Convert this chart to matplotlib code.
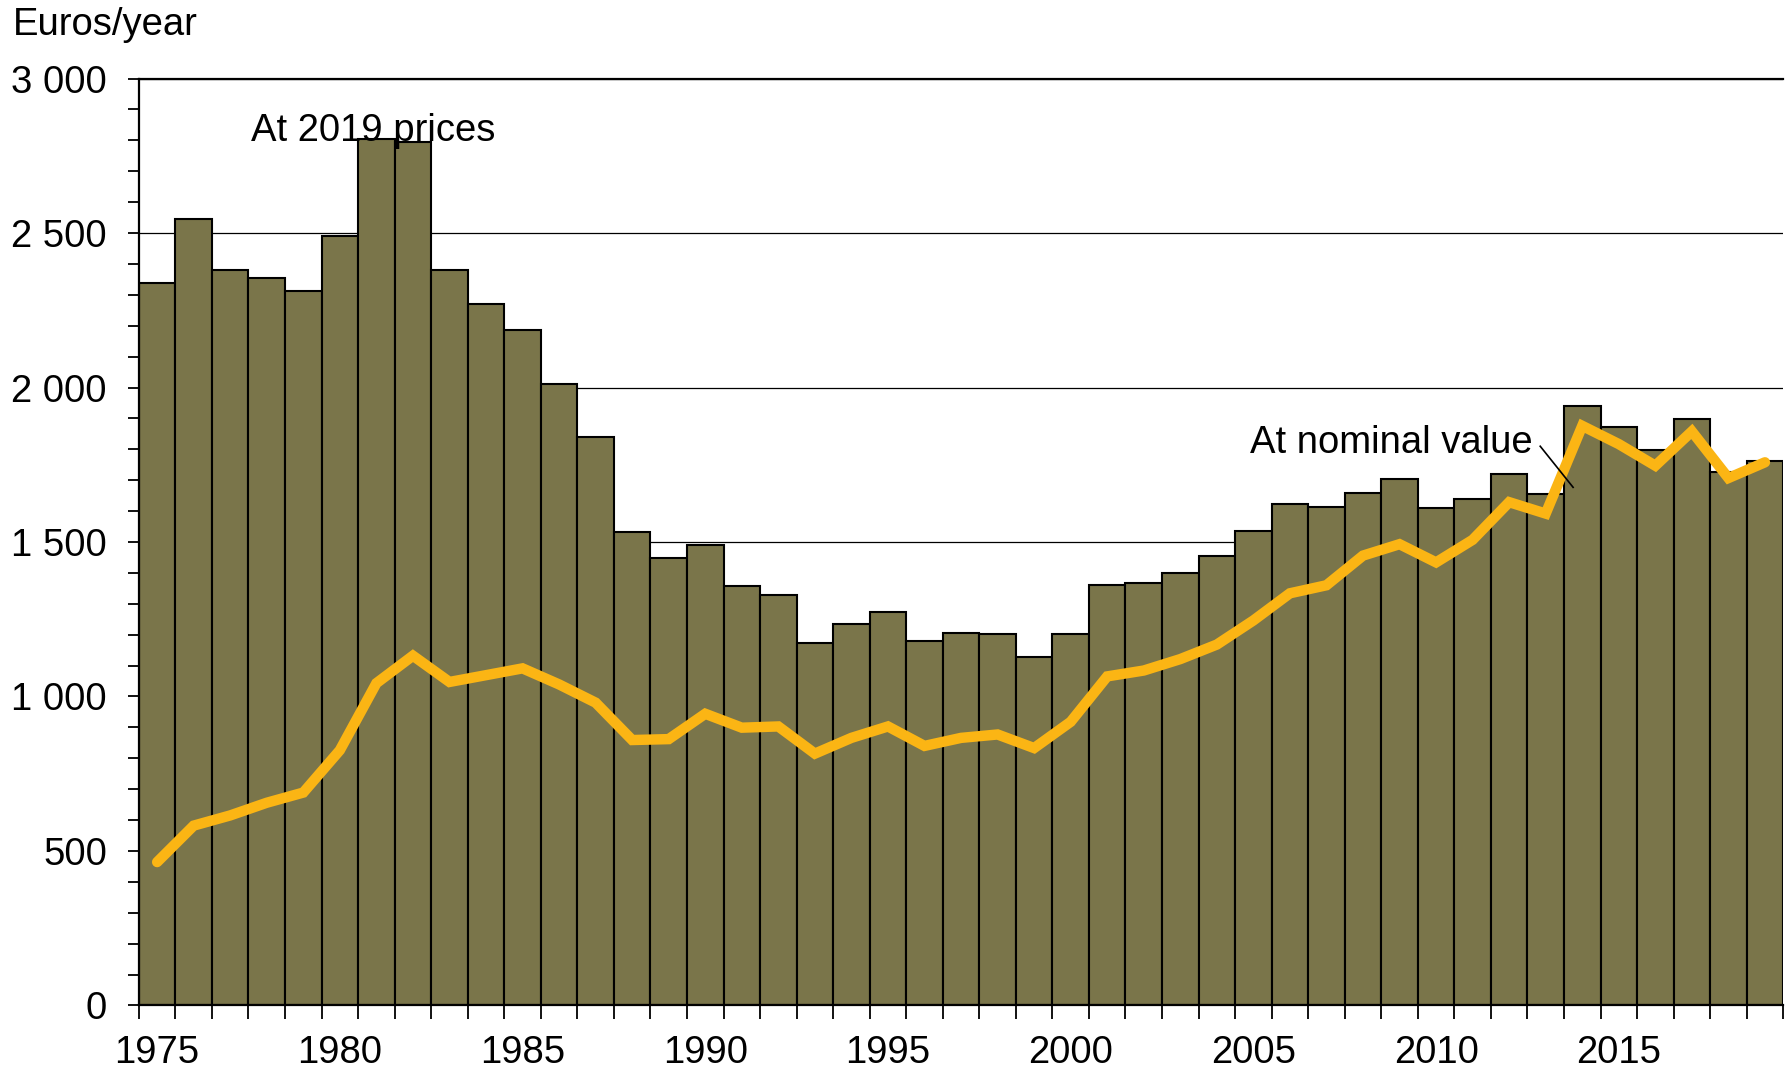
import matplotlib
matplotlib.use("Agg")
import matplotlib.pyplot as plt
import numpy as np
from matplotlib.ticker import MultipleLocator, FixedLocator, FuncFormatter

plt.rcParams['font.family'] = ['Liberation Sans', 'DejaVu Sans']

years = list(range(1975, 2020))
real_2019_prices = [2337, 2547, 2381, 2355, 2311, 2492, 2805, 2794, 2381, 2271,
                    2186, 2013, 1839, 1533, 1449, 1489, 1356, 1327, 1172, 1235,
                    1272, 1180, 1205, 1202, 1128, 1202, 1360, 1367, 1401, 1456,
                    1537, 1622, 1614, 1659, 1703, 1611, 1640, 1721, 1655, 1939,
                    1872, 1799, 1898, 1725, 1762]
nominal_value = [464, 582, 615, 656, 689, 826, 1043, 1132, 1047, 1069,
                 1091, 1039, 980, 859, 862, 944, 899, 903, 815, 866,
                 903, 840, 866, 877, 833, 918, 1065, 1084, 1121, 1168,
                 1246, 1334, 1360, 1456, 1493, 1434, 1507, 1629, 1592, 1876,
                 1817, 1747, 1858, 1707, 1758]
year_labels = [1975, 1980, 1985, 1990, 1995, 2000, 2005, 2010, 2015]
y_ticks = [0, 500, 1000, 1500, 2000, 2500, 3000]

FS = 27.5

fig = plt.figure(figsize=(17.85, 10.68), dpi=100)
ax = fig.add_axes([0.0778, 0.0586, 0.9212, 0.8678])

ax.bar(years, real_2019_prices, width=1.0, color='#7a754a', edgecolor='black',
       linewidth=1.5, zorder=2)
ax.plot(years, nominal_value, color='#fbb514', linewidth=7.5, zorder=3,
        solid_joinstyle='miter', solid_capstyle='round')

ax.set_xlim(1974.5, 2019.5)
ax.set_ylim(0, 3000)

ax.yaxis.set_major_locator(FixedLocator(y_ticks))
ax.yaxis.set_minor_locator(MultipleLocator(100))
ax.yaxis.set_major_formatter(FuncFormatter(lambda v, p: f"{int(v):,}".replace(",", " ")))
ax.grid(axis='y', which='major', color='black', linewidth=0.9, zorder=0)
ax.set_axisbelow(True)

ax.xaxis.set_major_locator(FixedLocator([y - 0.5 for y in years] + [2019.5]))
ax.xaxis.set_major_formatter(FuncFormatter(lambda v, p: ""))
ax.xaxis.set_minor_locator(FixedLocator(year_labels))
ax.xaxis.set_minor_formatter(FuncFormatter(lambda v, p: f"{int(round(v))}"))

ax.tick_params(axis='x', which='major', length=10, width=1.3, direction='out')
ax.tick_params(axis='x', which='minor', length=0, pad=21, labelsize=FS)
ax.tick_params(axis='y', which='both', length=8, width=1.3, direction='out',
               labelsize=FS, pad=15)

for s in ['left', 'bottom', 'top']:
    ax.spines[s].set_linewidth(1.6)
    ax.spines[s].set_color('black')
ax.spines['right'].set_visible(False)

fig.text(0.007, 0.993, "Euros/year", fontsize=FS, ha='left', va='top')
ax.text(1980.9, 2832, "At 2019 prices", fontsize=FS, ha='center', va='center')
ax.text(2012.65, 1820, "At nominal value", fontsize=FS, ha='right', va='center')
ax.plot([2012.85, 2013.75], [1810, 1677], color='black', linewidth=1.2, zorder=4)

fig.savefig("out.png", dpi=100)
